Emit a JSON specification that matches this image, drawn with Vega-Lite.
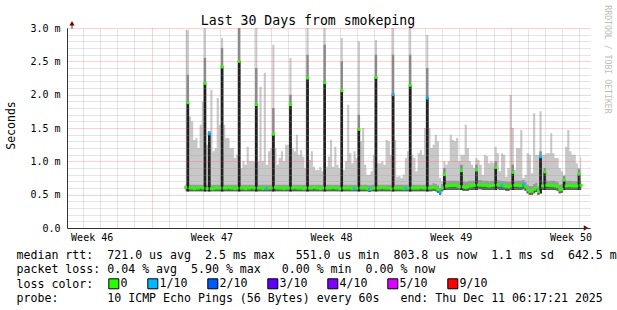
{
"$schema": "https://vega.github.io/schema/vega-lite/v6.json",
"width": 523, "height": 200,
"autosize": {"type": "none"},
"padding": {"left": 67, "top": 28, "right": 27, "bottom": 82},
"background": "#ffffff",
"config": {"view": {"stroke": null}, "axis": {"labelFont": "DejaVu Sans Mono", "titleFont": "DejaVu Sans Mono", "labelColor": "#000", "titleColor": "#000", "titleFontWeight": "normal", "labelFlush": false}},
"resolve": {"axis": {"x": "independent", "y": "independent"}},
"data": {"values": [
{"t":6.65,"lo":0.55,"md":0.66,"med":0.61,"hi":2.97,"c":"0"},
{"t":6.775,"lo":0.55,"md":0.66,"med":1.88,"hi":2.97,"sg":2.3,"c":"0"},
{"t":6.9,"lo":0.55,"md":0.65,"med":0.6,"hi":1.67,"c":"0"},
{"t":7.025,"lo":0.55,"md":0.65,"med":0.6,"hi":1.6,"c":"0"},
{"t":7.15,"lo":0.55,"md":0.65,"med":0.59,"hi":1.32,"c":"0"},
{"t":7.275,"lo":0.55,"md":0.65,"med":0.6,"hi":1.35,"c":"0"},
{"t":7.4,"lo":0.55,"md":0.65,"med":0.6,"hi":1.2,"c":"0"},
{"t":7.525,"lo":0.55,"md":0.65,"med":0.61,"hi":1.55,"c":"0"},
{"t":7.65,"lo":0.55,"md":0.65,"med":0.6,"hi":1.9,"c":"0"},
{"t":7.775,"lo":0.55,"md":0.65,"med":2.17,"hi":3.0,"sg":2.55,"c":"0"},
{"t":7.9,"lo":0.55,"md":0.65,"med":0.59,"hi":1.25,"c":"0"},
{"t":8.025,"lo":0.55,"md":0.65,"med":1.42,"hi":1.45,"sg":1.45,"c":"1/10"},
{"t":8.15,"lo":0.55,"md":0.65,"med":0.59,"hi":2.07,"c":"0"},
{"t":8.275,"lo":0.55,"md":0.65,"med":0.59,"hi":1.15,"c":"0"},
{"t":8.4,"lo":0.55,"md":0.65,"med":0.6,"hi":1.2,"c":"0"},
{"t":8.525,"lo":0.55,"md":0.65,"med":0.6,"hi":1.95,"c":"0"},
{"t":8.65,"lo":0.55,"md":0.65,"med":0.6,"hi":1.55,"c":"0"},
{"t":8.775,"lo":0.55,"md":0.65,"med":2.42,"hi":2.85,"sg":2.7,"c":"0"},
{"t":8.9,"lo":0.55,"md":0.65,"med":0.6,"hi":1.55,"c":"0"},
{"t":9.025,"lo":0.55,"md":0.65,"med":0.6,"hi":1.35,"c":"0"},
{"t":9.15,"lo":0.55,"md":0.65,"med":0.61,"hi":1.35,"c":"0"},
{"t":9.275,"lo":0.55,"md":0.65,"med":0.6,"hi":1.2,"c":"0"},
{"t":9.4,"lo":0.55,"md":0.65,"med":0.6,"hi":1.2,"c":"0"},
{"t":9.525,"lo":0.55,"md":0.65,"med":0.59,"hi":1.05,"c":"0"},
{"t":9.65,"lo":0.55,"md":0.65,"med":0.6,"hi":1.1,"c":"0"},
{"t":9.775,"lo":0.55,"md":0.65,"med":2.5,"hi":3.0,"sg":3.0,"c":"0"},
{"t":9.9,"lo":0.55,"md":0.65,"med":0.6,"hi":0.9,"c":"0"},
{"t":10.025,"lo":0.55,"md":0.65,"med":0.6,"hi":1.0,"c":"0"},
{"t":10.15,"lo":0.55,"md":0.65,"med":0.59,"hi":0.95,"c":"0"},
{"t":10.275,"lo":0.55,"md":0.65,"med":0.6,"hi":1.22,"c":"0"},
{"t":10.4,"lo":0.55,"md":0.65,"med":0.6,"hi":1.0,"c":"0"},
{"t":10.525,"lo":0.55,"md":0.65,"med":0.61,"hi":1.0,"c":"0"},
{"t":10.65,"lo":0.55,"md":0.65,"med":0.6,"hi":1.0,"c":"0"},
{"t":10.775,"lo":0.55,"md":0.65,"med":1.85,"hi":3.0,"sg":2.4,"c":"0"},
{"t":10.9,"lo":0.55,"md":0.65,"med":0.6,"hi":1.0,"c":"0"},
{"t":11.025,"lo":0.55,"md":0.65,"med":0.6,"hi":2.12,"c":"0"},
{"t":11.15,"lo":0.55,"md":0.65,"med":0.59,"hi":1.0,"c":"0"},
{"t":11.275,"lo":0.55,"md":0.65,"med":0.6,"hi":2.33,"c":"0"},
{"t":11.4,"lo":0.55,"md":0.65,"med":0.59,"hi":0.95,"c":"1/10"},
{"t":11.525,"lo":0.55,"md":0.65,"med":0.6,"hi":1.15,"c":"0"},
{"t":11.65,"lo":0.55,"md":0.65,"med":0.6,"hi":1.2,"c":"0"},
{"t":11.775,"lo":0.55,"md":0.65,"med":1.41,"hi":2.75,"sg":1.8,"c":"0"},
{"t":11.9,"lo":0.55,"md":0.65,"med":0.61,"hi":1.2,"c":"0"},
{"t":12.025,"lo":0.55,"md":0.65,"med":0.6,"hi":0.95,"c":"0"},
{"t":12.15,"lo":0.55,"md":0.65,"med":0.6,"hi":1.05,"c":"0"},
{"t":12.275,"lo":0.55,"md":0.65,"med":0.6,"hi":1.15,"c":"0"},
{"t":12.4,"lo":0.55,"md":0.65,"med":0.59,"hi":1.0,"c":"0"},
{"t":12.525,"lo":0.55,"md":0.65,"med":0.6,"hi":1.25,"c":"0"},
{"t":12.65,"lo":0.55,"md":0.65,"med":0.6,"hi":1.25,"c":"0"},
{"t":12.775,"lo":0.55,"md":0.65,"med":1.85,"hi":2.55,"sg":2.0,"c":"0"},
{"t":12.9,"lo":0.55,"md":0.65,"med":0.6,"hi":1.2,"c":"0"},
{"t":13.025,"lo":0.55,"md":0.65,"med":0.61,"hi":1.15,"c":"0"},
{"t":13.15,"lo":0.55,"md":0.65,"med":0.6,"hi":1.4,"c":"0"},
{"t":13.275,"lo":0.55,"md":0.65,"med":0.6,"hi":1.1,"c":"0"},
{"t":13.4,"lo":0.55,"md":0.65,"med":0.6,"hi":1.17,"c":"0"},
{"t":13.525,"lo":0.55,"md":0.65,"med":0.59,"hi":1.07,"c":"0"},
{"t":13.65,"lo":0.55,"md":0.65,"med":0.6,"hi":0.9,"c":"0"},
{"t":13.775,"lo":0.55,"md":0.65,"med":2.25,"hi":3.0,"sg":2.6,"c":"0"},
{"t":13.9,"lo":0.55,"md":0.65,"med":0.6,"hi":1.02,"c":"0"},
{"t":14.025,"lo":0.55,"md":0.65,"med":0.6,"hi":1.15,"c":"0"},
{"t":14.15,"lo":0.55,"md":0.65,"med":0.61,"hi":0.92,"c":"0"},
{"t":14.275,"lo":0.55,"md":0.65,"med":0.6,"hi":0.87,"c":"0"},
{"t":14.4,"lo":0.55,"md":0.65,"med":0.6,"hi":0.87,"c":"0"},
{"t":14.525,"lo":0.55,"md":0.65,"med":0.59,"hi":0.92,"c":"0"},
{"t":14.65,"lo":0.55,"md":0.65,"med":0.6,"hi":0.85,"c":"0"},
{"t":14.775,"lo":0.55,"md":0.65,"med":2.18,"hi":3.0,"sg":2.75,"c":"0"},
{"t":14.9,"lo":0.55,"md":0.65,"med":0.6,"hi":0.92,"c":"0"},
{"t":15.025,"lo":0.55,"md":0.65,"med":0.6,"hi":1.07,"c":"0"},
{"t":15.15,"lo":0.55,"md":0.65,"med":0.6,"hi":1.32,"c":"0"},
{"t":15.275,"lo":0.55,"md":0.65,"med":0.61,"hi":0.92,"c":"0"},
{"t":15.4,"lo":0.55,"md":0.65,"med":0.6,"hi":1.22,"c":"0"},
{"t":15.525,"lo":0.55,"md":0.65,"med":0.6,"hi":0.95,"c":"0"},
{"t":15.65,"lo":0.55,"md":0.65,"med":0.59,"hi":0.9,"c":"0"},
{"t":15.775,"lo":0.55,"md":0.65,"med":2.06,"hi":2.85,"sg":2.5,"c":"0"},
{"t":15.9,"lo":0.55,"md":0.65,"med":0.6,"hi":0.87,"c":"0"},
{"t":16.025,"lo":0.55,"md":0.65,"med":0.6,"hi":1.0,"c":"0"},
{"t":16.15,"lo":0.55,"md":0.65,"med":0.6,"hi":1.85,"c":"0"},
{"t":16.275,"lo":0.55,"md":0.65,"med":0.6,"hi":1.12,"c":"0"},
{"t":16.4,"lo":0.55,"md":0.65,"med":0.59,"hi":0.97,"c":"0"},
{"t":16.525,"lo":0.55,"md":0.65,"med":0.59,"hi":1.15,"c":"1/10"},
{"t":16.65,"lo":0.55,"md":0.65,"med":0.6,"hi":1.05,"c":"0"},
{"t":16.775,"lo":0.55,"md":0.65,"med":1.48,"hi":2.8,"sg":1.7,"c":"0"},
{"t":16.9,"lo":0.55,"md":0.65,"med":0.6,"hi":1.3,"c":"0"},
{"t":17.025,"lo":0.55,"md":0.65,"med":0.6,"hi":1.5,"c":"0"},
{"t":17.15,"lo":0.55,"md":0.65,"med":0.6,"hi":0.95,"c":"0"},
{"t":17.275,"lo":0.55,"md":0.65,"med":0.59,"hi":0.8,"c":"0"},
{"t":17.4,"lo":0.54,"md":0.64,"med":0.58,"hi":0.8,"c":"1/10"},
{"t":17.525,"lo":0.55,"md":0.65,"med":0.59,"hi":0.85,"c":"0"},
{"t":17.65,"lo":0.55,"md":0.65,"med":0.6,"hi":1.1,"c":"0"},
{"t":17.775,"lo":0.55,"md":0.65,"med":2.26,"hi":2.82,"sg":2.6,"c":"0"},
{"t":17.9,"lo":0.55,"md":0.65,"med":0.6,"hi":0.97,"c":"0"},
{"t":18.025,"lo":0.55,"md":0.65,"med":0.6,"hi":0.97,"c":"0"},
{"t":18.15,"lo":0.55,"md":0.65,"med":0.61,"hi":1.0,"c":"0"},
{"t":18.275,"lo":0.55,"md":0.65,"med":0.6,"hi":0.95,"c":"0"},
{"t":18.4,"lo":0.55,"md":0.65,"med":0.6,"hi":1.32,"c":"0"},
{"t":18.525,"lo":0.55,"md":0.65,"med":0.6,"hi":1.3,"c":"0"},
{"t":18.65,"lo":0.55,"md":0.65,"med":0.59,"hi":1.1,"c":"0"},
{"t":18.775,"lo":0.55,"md":0.65,"med":2.0,"hi":3.0,"sg":2.6,"c":"1/10"},
{"t":18.9,"lo":0.55,"md":0.65,"med":0.6,"hi":1.32,"c":"0"},
{"t":19.025,"lo":0.55,"md":0.65,"med":0.6,"hi":0.77,"c":"0"},
{"t":19.15,"lo":0.55,"md":0.65,"med":0.6,"hi":0.78,"c":"0"},
{"t":19.275,"lo":0.55,"md":0.65,"med":0.6,"hi":0.75,"c":"0"},
{"t":19.4,"lo":0.55,"md":0.65,"med":0.59,"hi":0.8,"c":"0"},
{"t":19.525,"lo":0.55,"md":0.65,"med":0.59,"hi":1.05,"c":"1/10"},
{"t":19.65,"lo":0.55,"md":0.65,"med":0.6,"hi":1.15,"c":"0"},
{"t":19.775,"lo":0.55,"md":0.65,"med":2.14,"hi":3.0,"sg":2.6,"c":"0"},
{"t":19.9,"lo":0.55,"md":0.65,"med":0.6,"hi":1.1,"c":"0"},
{"t":20.025,"lo":0.55,"md":0.65,"med":0.6,"hi":1.05,"c":"0"},
{"t":20.15,"lo":0.55,"md":0.65,"med":0.6,"hi":0.85,"c":"0"},
{"t":20.275,"lo":0.55,"md":0.65,"med":0.6,"hi":1.12,"c":"0"},
{"t":20.4,"lo":0.55,"md":0.65,"med":0.61,"hi":1.17,"c":"0"},
{"t":20.525,"lo":0.55,"md":0.65,"med":0.6,"hi":1.1,"c":"0"},
{"t":20.65,"lo":0.55,"md":0.65,"med":0.6,"hi":1.5,"c":"0"},
{"t":20.775,"lo":0.55,"md":0.65,"med":1.95,"hi":2.9,"sg":2.4,"c":"1/10"},
{"t":20.9,"lo":0.55,"md":0.65,"med":0.6,"hi":1.5,"c":"0"},
{"t":21.025,"lo":0.55,"md":0.65,"med":0.6,"hi":1.2,"c":"0"},
{"t":21.15,"lo":0.56,"md":0.67,"med":0.61,"hi":1.25,"c":"0"},
{"t":21.275,"lo":0.55,"md":0.66,"med":0.6,"hi":1.4,"c":"0"},
{"t":21.4,"lo":0.53,"md":0.64,"med":0.58,"hi":1.3,"c":"0"},
{"t":21.525,"lo":0.5,"md":0.6,"med":0.535,"hi":0.75,"c":"1/10"},
{"t":21.65,"lo":0.55,"md":0.66,"med":0.6,"hi":0.7,"c":"0"},
{"t":21.775,"lo":0.57,"md":0.71,"med":0.8,"hi":1.0,"sg":0.9,"c":"0"},
{"t":21.9,"lo":0.57,"md":0.71,"med":0.63,"hi":0.95,"c":"0"},
{"t":22.025,"lo":0.57,"md":0.71,"med":0.635,"hi":1.0,"c":"0"},
{"t":22.15,"lo":0.57,"md":0.71,"med":0.635,"hi":1.4,"c":"0"},
{"t":22.275,"lo":0.57,"md":0.71,"med":0.64,"hi":1.32,"c":"0"},
{"t":22.4,"lo":0.57,"md":0.71,"med":0.64,"hi":1.3,"c":"0"},
{"t":22.525,"lo":0.57,"md":0.71,"med":0.63,"hi":1.35,"c":"0"},
{"t":22.65,"lo":0.57,"md":0.7,"med":0.62,"hi":1.0,"c":"0"},
{"t":22.775,"lo":0.57,"md":0.71,"med":0.86,"hi":1.1,"sg":0.95,"c":"0"},
{"t":22.9,"lo":0.56,"md":0.7,"med":0.62,"hi":1.1,"c":"0"},
{"t":23.025,"lo":0.56,"md":0.69,"med":0.61,"hi":1.55,"c":"0"},
{"t":23.15,"lo":0.56,"md":0.7,"med":0.62,"hi":1.2,"c":"0"},
{"t":23.275,"lo":0.57,"md":0.71,"med":0.63,"hi":1.0,"c":"0"},
{"t":23.4,"lo":0.57,"md":0.71,"med":0.635,"hi":0.95,"c":"0"},
{"t":23.525,"lo":0.57,"md":0.71,"med":0.64,"hi":0.9,"c":"0"},
{"t":23.65,"lo":0.57,"md":0.71,"med":0.87,"hi":1.05,"sg":0.95,"c":"0"},
{"t":23.775,"lo":0.58,"md":0.72,"med":0.645,"hi":1.02,"c":"0"},
{"t":23.9,"lo":0.58,"md":0.72,"med":0.645,"hi":0.95,"c":"0"},
{"t":24.025,"lo":0.57,"md":0.71,"med":0.64,"hi":0.8,"c":"0"},
{"t":24.15,"lo":0.57,"md":0.71,"med":0.64,"hi":1.1,"c":"0"},
{"t":24.275,"lo":0.57,"md":0.71,"med":0.635,"hi":1.08,"c":"0"},
{"t":24.4,"lo":0.57,"md":0.7,"med":0.63,"hi":0.97,"c":"0"},
{"t":24.525,"lo":0.57,"md":0.71,"med":0.635,"hi":1.0,"c":"0"},
{"t":24.65,"lo":0.57,"md":0.71,"med":0.64,"hi":0.97,"c":"0"},
{"t":24.775,"lo":0.57,"md":0.72,"med":0.91,"hi":1.22,"sg":1.0,"c":"0"},
{"t":24.9,"lo":0.58,"md":0.72,"med":0.645,"hi":1.12,"c":"0"},
{"t":25.025,"lo":0.57,"md":0.71,"med":0.64,"hi":0.85,"c":"0"},
{"t":25.15,"lo":0.57,"md":0.71,"med":0.635,"hi":1.12,"c":"1/10"},
{"t":25.275,"lo":0.57,"md":0.7,"med":0.63,"hi":1.1,"c":"0"},
{"t":25.4,"lo":0.56,"md":0.7,"med":0.625,"hi":0.77,"c":"0"},
{"t":25.525,"lo":0.56,"md":0.69,"med":0.62,"hi":0.9,"c":"0"},
{"t":25.65,"lo":0.57,"md":0.7,"med":0.63,"hi":2.0,"c":"0"},
{"t":25.775,"lo":0.57,"md":0.71,"med":0.835,"hi":1.5,"sg":0.95,"c":"0"},
{"t":25.9,"lo":0.57,"md":0.71,"med":0.64,"hi":0.87,"c":"0"},
{"t":26.025,"lo":0.57,"md":0.71,"med":0.64,"hi":1.2,"c":"0"},
{"t":26.15,"lo":0.57,"md":0.71,"med":0.635,"hi":1.2,"c":"0"},
{"t":26.275,"lo":0.57,"md":0.71,"med":0.635,"hi":1.47,"c":"0"},
{"t":26.4,"lo":0.58,"md":0.72,"med":0.65,"hi":0.75,"c":"1/10"},
{"t":26.525,"lo":0.56,"md":0.69,"med":0.62,"hi":0.8,"c":"0"},
{"t":26.65,"lo":0.52,"md":0.65,"med":0.57,"hi":1.12,"c":"0"},
{"t":26.775,"lo":0.5,"md":0.63,"med":0.55,"hi":1.1,"c":"0"},
{"t":26.9,"lo":0.5,"md":0.63,"med":0.55,"hi":0.82,"c":"0"},
{"t":27.025,"lo":0.52,"md":0.66,"med":0.58,"hi":1.72,"c":"0"},
{"t":27.15,"lo":0.54,"md":0.68,"med":0.6,"hi":1.1,"c":"0"},
{"t":27.275,"lo":0.5,"md":0.62,"med":0.545,"hi":1.1,"c":"0"},
{"t":27.4,"lo":0.52,"md":0.68,"med":1.07,"hi":1.75,"sg":1.15,"c":"1/10"},
{"t":27.525,"lo":0.57,"md":0.7,"med":0.63,"hi":1.1,"c":"0"},
{"t":27.65,"lo":0.57,"md":0.71,"med":0.84,"hi":1.1,"sg":0.9,"c":"0"},
{"t":27.775,"lo":0.57,"md":0.71,"med":0.64,"hi":1.12,"c":"0"},
{"t":27.9,"lo":0.57,"md":0.71,"med":0.64,"hi":1.12,"c":"0"},
{"t":28.025,"lo":0.57,"md":0.71,"med":0.635,"hi":1.42,"c":"0"},
{"t":28.15,"lo":0.57,"md":0.71,"med":0.635,"hi":1.12,"c":"0"},
{"t":28.275,"lo":0.57,"md":0.7,"med":0.63,"hi":1.05,"c":"0"},
{"t":28.4,"lo":0.56,"md":0.69,"med":0.62,"hi":1.05,"c":"0"},
{"t":28.525,"lo":0.52,"md":0.65,"med":0.57,"hi":0.9,"c":"0"},
{"t":28.65,"lo":0.53,"md":0.66,"med":0.58,"hi":0.85,"c":"0"},
{"t":28.775,"lo":0.57,"md":0.7,"med":0.72,"hi":0.8,"sg":0.78,"c":"0"},
{"t":28.9,"lo":0.57,"md":0.7,"med":0.63,"hi":1.22,"c":"0"},
{"t":29.025,"lo":0.57,"md":0.71,"med":0.635,"hi":1.47,"c":"0"},
{"t":29.15,"lo":0.57,"md":0.71,"med":0.635,"hi":1.15,"c":"0"},
{"t":29.275,"lo":0.57,"md":0.7,"med":0.63,"hi":1.1,"c":"0"},
{"t":29.4,"lo":0.57,"md":0.7,"med":0.63,"hi":1.1,"c":"0"},
{"t":29.525,"lo":0.57,"md":0.7,"med":0.63,"hi":0.97,"c":"0"},
{"t":29.65,"lo":0.57,"md":0.71,"med":0.81,"hi":0.9,"sg":0.88,"c":"0"},
{"t":29.775,"lo":0.57,"md":0.71,"med":0.64,"hi":1.07,"c":"0"}
]},
"layer": [
{"mark": {"type": "area", "interpolate": "step", "color": "#c8c8c8", "opacity": 1},
 "encoding": {
  "x": {"field": "t", "type": "quantitative", "scale": {"domain": [0, 30], "nice": false, "zero": false},
        "axis": {"orient": "top", "values": [0.65,1.65,2.65,3.65,5.65,6.65,7.65,8.65,9.65,10.65,12.65,13.65,14.65,15.65,16.65,17.65,19.65,20.65,21.65,22.65,23.65,24.65,26.65,27.65,28.65,29.65], "grid": true, "gridColor": "#9a9a9a", "gridOpacity": 0.5, "gridDash": [1, 1], "labels": false, "ticks": false, "domain": false, "zindex": 1,
                 "title": "Last 30 Days from smokeping", "titleX": 240.5, "titleY": -4, "titleAlign": "center", "titleAnchor": null, "titleBaseline": "alphabetic", "titleFontSize": 13.2, "titleColor": "#000000"}},
  "y": {"field": "hi", "type": "quantitative", "scale": {"domain": [0, 3], "nice": false, "zero": false},
        "axis": {"orient": "right", "values": [0.1,0.2,0.3,0.4,0.6,0.7,0.8,0.9,1.1,1.2,1.3,1.4,1.6,1.7,1.8,1.9,2.1,2.2,2.3,2.4,2.6,2.7,2.8,2.9], "grid": true, "gridColor": "#9a9a9a", "gridOpacity": 0.5, "gridDash": [1, 1], "labels": false, "ticks": false, "domain": false, "zindex": 1,
                 "title": "RRDTOOL / TOBI OETIKER", "titleAngle": 90, "titleX": 16, "titleY": 31, "titleAlign": "center", "titleBaseline": "middle", "titleFontSize": 8.2, "titleColor": "#bdbdbd"}},
  "y2": {"field": "lo"}
 }},
{"mark": {"type": "area", "interpolate": "step", "color": "#9a9a9a", "opacity": 1},
 "encoding": {
  "x": {"field": "t", "type": "quantitative", "scale": {"domain": [0, 30], "nice": false, "zero": false},
        "axis": {"orient": "bottom", "values": [4.65, 11.65, 18.65, 25.65], "grid": true, "gridColor": "#ff4848", "gridOpacity": 0.5, "gridDash": [1, 1], "labels": false, "ticks": false, "domain": false, "title": null, "zindex": 1}},
  "y": {"field": "md", "type": "quantitative", "scale": {"domain": [0, 3], "nice": false, "zero": false},
        "axis": {"orient": "left", "values": [0, 0.5, 1, 1.5, 2, 2.5, 3], "grid": true, "gridColor": "#ff4848", "gridOpacity": 0.5, "gridDash": [1, 1], "ticks": false, "domain": true, "domainColor": "#333333", "zindex": 1,
                 "labelExpr": "datum.value == 0 ? '0.0' : format(datum.value, '.1f') + ' m'", "labelFontSize": 10, "labelPadding": 7, "labelBaseline": "middle",
                 "title": "Seconds", "titleFontSize": 11.5, "titleX": -56, "titleY": 97, "titleAngle": -90, "titleAlign": "center", "titleBaseline": "middle"}},
  "y2": {"field": "lo"}
 }},
{"mark": {"type": "area", "interpolate": "step", "color": "#5c5c5c", "opacity": 1},
 "encoding": {
  "x": {"field": "t", "type": "quantitative", "scale": {"domain": [0, 30], "nice": false, "zero": false},
        "axis": {"orient": "bottom", "values": [1.15, 8.15, 15.15, 22.15, 29.15], "grid": false, "ticks": false, "domain": true, "domainColor": "#333333", "zindex": 1,
                 "labelExpr": "'Week ' + (46 + round((datum.value - 1.15) / 7))", "labelFontSize": 10, "labelPadding": 4, "labelOverlap": false,
                 "title": ["median\u00a0rtt:\u00a0\u00a0721.0\u00a0us\u00a0avg\u00a0\u00a02.5\u00a0ms\u00a0max\u00a0\u00a0\u00a0551.0\u00a0us\u00a0min\u00a0\u00a0803.8\u00a0us\u00a0now\u00a0\u00a01.1\u00a0ms\u00a0sd\u00a0\u00a0642.5\u00a0m", "packet\u00a0loss:\u00a00.04\u00a0%\u00a0avg\u00a0\u00a05.90\u00a0%\u00a0max\u00a0\u00a0\u00a00.00\u00a0%\u00a0min\u00a0\u00a00.00\u00a0%\u00a0now", "loss\u00a0color:", "probe:\u00a0\u00a0\u00a0\u00a0\u00a0\u00a0\u00a010\u00a0ICMP\u00a0Echo\u00a0Pings\u00a0(56\u00a0Bytes)\u00a0every\u00a060s\u00a0\u00a0\u00a0end:\u00a0Thu\u00a0Dec\u00a011\u00a006:17:21\u00a02025"],
                 "titleFontSize": 11.6, "titleAlign": "left", "titleAnchor": "start", "titleX": -51, "titleY": 30, "titleBaseline": "alphabetic", "titleLineHeight": 14.5}},
  "y": {"field": "med", "type": "quantitative", "scale": {"domain": [0, 3], "nice": false, "zero": false}, "axis": null},
  "y2": {"field": "lo"}
 }},
{"transform": [{"filter": "isValid(datum.sg)"}],
 "mark": {"type": "bar", "width": 2.4, "color": "#8a8a8a", "opacity": 1},
 "encoding": {
  "x": {"field": "t", "type": "quantitative", "scale": {"domain": [0, 30], "nice": false, "zero": false}, "axis": null},
  "y": {"field": "sg", "type": "quantitative", "scale": {"domain": [0, 3], "nice": false, "zero": false}, "axis": null},
  "y2": {"field": "lo"}
 }},
{"transform": [{"filter": "isValid(datum.sg)"}],
 "mark": {"type": "bar", "width": 2.6, "color": "#202020", "opacity": 1},
 "encoding": {
  "x": {"field": "t", "type": "quantitative", "scale": {"domain": [0, 30], "nice": false, "zero": false}, "axis": null},
  "y": {"field": "med", "type": "quantitative", "scale": {"domain": [0, 3], "nice": false, "zero": false}, "axis": null},
  "y2": {"field": "lo"}
 }},
{"mark": {"type": "square", "size": 9, "filled": true, "opacity": 1, "strokeWidth": 0},
 "encoding": {
  "x": {"field": "t", "type": "quantitative", "scale": {"domain": [0, 30], "nice": false, "zero": false}, "axis": null},
  "y": {"field": "med", "type": "quantitative", "scale": {"domain": [0, 3], "nice": false, "zero": false}, "axis": null},
  "color": {"field": "c", "type": "nominal",
            "scale": {"domain": ["0", "1/10", "2/10", "3/10", "4/10", "5/10", "9/10"], "range": ["#26ff00", "#00b8ff", "#0059ff", "#5e00ff", "#7e00ff", "#dd00ff", "#ff0000"]},
            "legend": {"orient": "none", "legendX": 41, "legendY": 250, "direction": "horizontal", "columns": 7, "title": null, "symbolType": "square", "symbolSize": 100, "symbolStrokeColor": "#000000", "symbolStrokeWidth": 1, "symbolOpacity": 1, "labelFont": "DejaVu Sans Mono", "labelFontSize": 11.6, "labelColor": "#000000", "labelOffset": 1, "columnPadding": 17, "gridAlign": "none", "labelLimit": 300, "padding": 0,
                       "labelExpr": "datum.label == '0' ? '0\u00a0' : datum.label == '2/10' ? '2/10\u00a0\u00a0' : (datum.label == '3/10' || datum.label == '4/10' || datum.label == '5/10') ? datum.label + '\u00a0' : datum.label",
                       "encode": {"symbols": {"update": {"stroke": {"value": "#000000"}, "strokeWidth": {"value": 1}}}}}}
 }},
{"data": {"values": [{}]},
 "mark": {"type": "rule", "color": "#333333"},
 "encoding": {
  "x": {"datum": 0, "type": "quantitative", "scale": {"domain": [0, 30], "nice": false, "zero": false}, "axis": null},
  "y": {"datum": 2.99, "type": "quantitative", "scale": {"domain": [0, 3], "nice": false, "zero": false}, "axis": null},
  "y2": {"datum": 3.06}
 }},
{"data": {"values": [{}]},
 "mark": {"type": "point", "shape": "triangle-up", "filled": true, "size": 28, "color": "#7a0000", "opacity": 1},
 "encoding": {
  "x": {"datum": 0, "type": "quantitative", "scale": {"domain": [0, 30], "nice": false, "zero": false}, "axis": null},
  "y": {"datum": 3.07, "type": "quantitative", "scale": {"domain": [0, 3], "nice": false, "zero": false}, "axis": null}
 }},
{"data": {"values": [{}]},
 "mark": {"type": "point", "shape": "triangle-right", "filled": true, "size": 28, "color": "#7a0000", "opacity": 1},
 "encoding": {
  "x": {"datum": 30.06, "type": "quantitative", "scale": {"domain": [0, 30], "nice": false, "zero": false}, "axis": null},
  "y": {"datum": 0, "type": "quantitative", "scale": {"domain": [0, 3], "nice": false, "zero": false}, "axis": null}
 }}
]
}
